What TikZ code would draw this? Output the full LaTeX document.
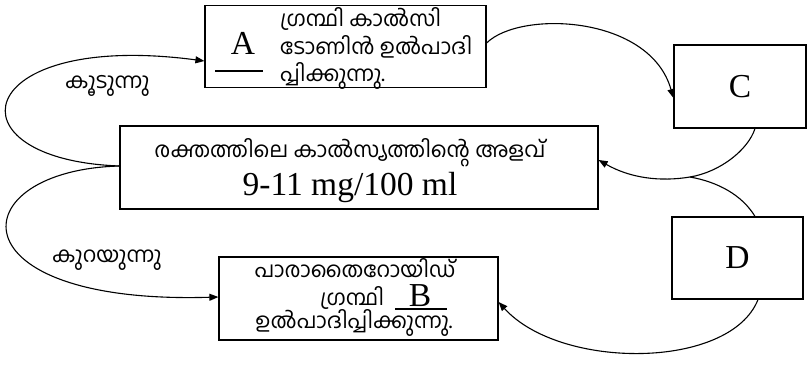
\documentclass[tikz,border=0pt]{standalone}
\usepackage{fontspec}
\setmainfont{Liberation Serif}
\newfontfamily\mlfont[Script=Malayalam]{Hind Kochi}
\usetikzlibrary{arrows.meta}
\tikzset{
 box/.style={draw,line width=1.2pt,inner sep=0pt},
 ml/.style={font=\mlfont\fontsize{21.5}{24}\selectfont,inner sep=0pt},
 lat/.style={font=\fontsize{33.5}{36}\selectfont,inner sep=0pt},
 conn/.style={line width=1.1pt},
 arr/.style={conn,-{Triangle[length=9pt,width=7pt]}}
}
\begin{document}
\begin{tikzpicture}[x=1pt,y=-1pt]
\useasboundingbox (0,0) rectangle (809,372);
% boxes
\node[box,minimum width=281pt,minimum height=82pt] (A) at (345.5,46.5) {};
\node[box,minimum width=478pt,minimum height=83pt] (M) at (359,167.5) {};
\node[box,minimum width=279pt,minimum height=83pt] (B) at (358.5,298.5) {};
\node[box,lat,minimum width=132pt,minimum height=83pt] (C) at (740,86.5) {C};
\node[box,lat,minimum width=131pt,minimum height=82pt] (D) at (737.5,258) {D};
% box A text
\node[lat,anchor=base] (Aletter) at (243,54) {A};
\coordinate (Aul1) at (215,71);
\coordinate (Aul2) at (263,71);
\draw[line width=1.2pt] (Aul1) -- (Aul2);
\node[ml,anchor=base west] (A1) at (280,27) {ഗ്രന്ഥി കാൽസി};
\node[ml,anchor=base west] (A2) at (280,54) {ടോണിൻ ഉൽപാദി};
\node[ml,anchor=base west] (A3) at (280,81) {പ്പിക്കുന്നു.};
% middle box text
\node[ml,anchor=base] (M1) at (350,157) {രക്തത്തിലെ കാൽസ്യത്തിന്റെ അളവ്};
\node[lat,anchor=base] (M2) at (350,195) {9-11 mg/100 ml};
% box B text
\node[ml,anchor=base,text depth=1pt] (B1) at (355,277) {പാരാതൈറോയിഡ്};
\node[ml,anchor=base west] (B2) at (320,305) {ഗ്രന്ഥി};
\node[lat,anchor=base,text height=20pt] (Bletter) at (420,306) {B};
\coordinate (Bul1) at (395,309);
\coordinate (Bul2) at (447,309);
\draw[line width=1.2pt] (Bul1) -- (Bul2);
\node[ml,anchor=base] (B3) at (354,328) {ഉൽപാദിപ്പിക്കുന്നു.};
% labels
\node[ml,anchor=base west] (L1) at (65,88) {കൂടുന്നു};
\node[ml,anchor=base west] (L2) at (52,262) {കുറയുന്നു};
% connectors
\coordinate (Mw) at (120,166);
\draw[arr] (Mw) .. controls (-55,160) and (-30,30) .. ([yshift=-14.5pt]A.west);
\draw[arr] (Mw) .. controls (-40,170) and (-50,305) .. ([yshift=1.5pt]B.west);
\draw[arr] ([yshift=3.5pt]A.east) .. controls (520,10) and (650,15) .. ([yshift=-11.5pt]C.west);
\coordinate (J) at (690,177);
\draw[conn] ([xshift=15pt]C.south) .. controls (748,150) and (720,172) .. (J);
\draw[arr] (J) .. controls (660,182) and (630,178) .. ([yshift=7.5pt]M.east);
\draw[conn] ([xshift=17.5pt]D.north) .. controls (742,195) and (718,182) .. (J);
\draw[arr] ([xshift=20.5pt]D.south) .. controls (730,370) and (560,370) .. ([yshift=-3.5pt]B.east);
\end{tikzpicture}
\end{document}
